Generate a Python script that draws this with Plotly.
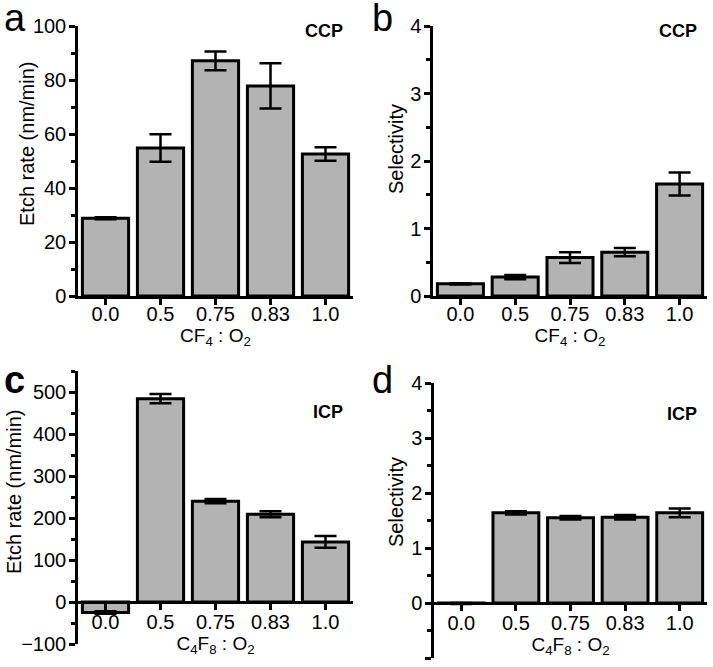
import plotly.graph_objects as go

# ---------------- data ----------------
ratios = ["0.0", "0.5", "0.75", "0.83", "1.0"]
ccp_rate = [28.8, 54.8, 87.1, 77.8, 52.6]
ccp_rate_err = [0.4, 5.1, 3.5, 8.4, 2.5]
ccp_sel = [0.18, 0.28, 0.57, 0.65, 1.66]
ccp_sel_err = [0.01, 0.03, 0.08, 0.06, 0.17]
icp_rate = [-25, 484, 240, 209, 143]
icp_rate_err = [3, 11, 5, 7, 14]
icp_sel = [-0.01, 1.64, 1.55, 1.56, 1.64]
icp_sel_err = [0.01, 0.03, 0.03, 0.04, 0.08]

W, H = 713, 667
FONT = "Liberation Sans, Arial, sans-serif"
BAR = "#b3b3b3"

def dx(a, b):
    return [a / W, b / W]

def dy(bottom, top):
    return [1 - bottom / H, 1 - top / H]

panels = [
    dict(y=ccp_rate, e=ccp_rate_err, xd=dx(78, 353), yd=dy(296, 26), r=[0, 100], dt=20, mn=10,
         yt="Etch rate (nm/min)", xt="CF<sub>4</sub> : O<sub>2</sub>", tag="a", gas="CCP",
         tagx=2, tagy=-5, gy=31, ytx=27, yty=144, xso=-8),
    dict(y=ccp_sel, e=ccp_sel_err, xd=dx(433, 707), yd=dy(296, 26), r=[0, 4], dt=1, mn=0.5,
         yt="Selectivity", xt="CF<sub>4</sub> : O<sub>2</sub>", tag="b", gas="CCP",
         tagx=370, tagy=-5, gy=31, ytx=396, yty=149, xso=-8),
    dict(y=icp_rate, e=icp_rate_err, xd=dx(78, 353), yd=dy(644, 371), r=[-100, 550], dt=100, mn=50,
         yt="Etch rate (nm/min)", xt="C<sub>4</sub>F<sub>8</sub> : O<sub>2</sub>", tag="<b>c</b>", gas="ICP",
         tagx=2, tagy=357, gy=412, ytx=14, yty=492, xso=-5),
    dict(y=icp_sel, e=icp_sel_err, xd=dx(434, 707), yd=dy(658, 383), r=[-1, 4], dt=1, mn=0.5,
         yt="Selectivity", xt="C<sub>4</sub>F<sub>8</sub> : O<sub>2</sub>", tag="d", gas="ICP",
         tagx=370, tagy=357, gy=414, ytx=396, yty=502, xso=-5),
]

fig = go.Figure()
layout = dict(
    width=W, height=H, margin=dict(l=0, r=0, t=0, b=0, autoexpand=False),
    paper_bgcolor="white", plot_bgcolor="white", showlegend=False,
    font=dict(family=FONT, size=20, color="black"),
    bargap=0.16,
)
annotations = []

for i, p in enumerate(panels, start=1):
    xs = "" if i == 1 else str(i)
    fig.add_trace(go.Bar(
        x=ratios, y=p["y"], xaxis="x" + xs, yaxis="y" + xs,
        marker=dict(color=BAR, line=dict(color="black", width=3)),
        error_y=dict(type="data", array=p["e"], color="black", thickness=2.5, width=11),
    ))
    r = p["r"]
    yd = p["yd"]
    xaxis = dict(
        domain=p["xd"], type="category", range=[-0.5, 4.5], automargin=False,
        showline=True, linewidth=2.5, linecolor="black",
        ticks="outside", ticklen=6, tickwidth=2.5, tickcolor="black",
        showgrid=False, zeroline=False, fixedrange=True,
        tickfont=dict(size=20), ticklabelstandoff=p["xso"],
        title=dict(text=p["xt"], font=dict(size=19), standoff=2),
    )
    if r[0] < 0:
        xaxis["anchor"] = "free"
        xaxis["position"] = yd[0] + (0 - r[0]) / (r[1] - r[0]) * (yd[1] - yd[0])
    else:
        xaxis["anchor"] = "y" + xs
    yaxis = dict(
        domain=yd, range=r, anchor="x" + xs, dtick=p["dt"], tick0=0, automargin=False,
        showline=True, linewidth=2.5, linecolor="black",
        ticks="outside", ticklen=6, tickwidth=2.5, tickcolor="black",
        minor=dict(ticks="outside", ticklen=4, tickwidth=2.5, tickcolor="black", dtick=p["mn"], tick0=0),
        showgrid=False, zeroline=False, fixedrange=True,
        tickfont=dict(size=20), ticklabelstandoff=-1,
    )
    layout["xaxis" + xs] = xaxis
    layout["yaxis" + xs] = yaxis

    annotations.append(dict(
        text=p["yt"], xref="paper", yref="paper", textangle=-90,
        x=p["ytx"] / W, y=1 - p["yty"] / H, xanchor="center", yanchor="middle",
        showarrow=False, font=dict(size=20),
    ))
    annotations.append(dict(
        text="<b>" + p["gas"] + "</b>", xref="x" + xs + " domain", yref="paper",
        x=0.97, y=1 - p["gy"] / H, xanchor="right", yanchor="middle",
        showarrow=False, font=dict(size=18),
    ))
    annotations.append(dict(
        text=p["tag"], xref="paper", yref="paper",
        x=p["tagx"] / W, y=1 - p["tagy"] / H, xanchor="left", yanchor="top",
        showarrow=False, font=dict(size=38),
    ))

layout["annotations"] = annotations
fig.update_layout(**layout)
fig.write_html(
    "out.html",
    config={"displayModeBar": False},
    post_script="document.body.style.margin='0';document.body.style.overflow='hidden';",
)
